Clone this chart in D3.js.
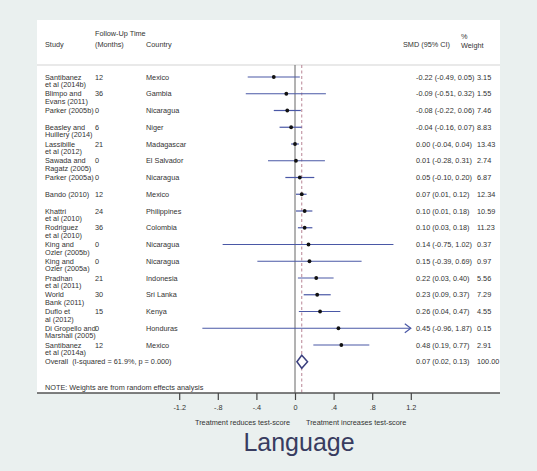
<!DOCTYPE html>
<html>
<head>
<meta charset="utf-8">
<script src="https://cdn.jsdelivr.net/npm/d3@7"></script>
<style>
  body { margin: 0; background: #eaf0ef; }
  text { font-family: "Liberation Sans", Arial, sans-serif; }
</style>
</head>
<body>
<div id="forest"></div>
<script>
// study rows, top to bottom
const studies = [
  ["Santibanez", "et al (2014b)"], ["Blimpo and", "Evans (2011)"], ["Parker (2005b)"],
  ["Beasley and", "Huillery (2014)"], ["Lassibille", "et al (2012)"], ["Sawada and", "Ragatz (2005)"],
  ["Parker (2005a)"], ["Bando (2010)"], ["Khattri", "et al (2010)"], ["Rodriguez", "et al (2010)"],
  ["King and", "Ozler (2005b)"], ["King and", "Ozler (2005a)"], ["Pradhan", "et al (2011)"],
  ["World", "Bank (2011)"], ["Duflo et", "al (2012)"], ["Di Gropello and", "Marshall (2005)"],
  ["Santibanez", "et al (2014a)"]
];
const followUp = [12, 36, 0, 6, 21, 0, 0, 12, 24, 36, 0, 0, 21, 30, 15, 0, 12];
const countries = ["Mexico", "Gambia", "Nicaragua", "Niger", "Madagascar", "El Salvador", "Nicaragua",
  "Mexico", "Philippines", "Colombia", "Nicaragua", "Nicaragua", "Indonesia", "Sri Lanka", "Kenya",
  "Honduras", "Mexico"];
const smd = [-0.22, -0.09, -0.08, -0.04, 0.00, 0.01, 0.05, 0.07, 0.10, 0.10, 0.14, 0.15, 0.22, 0.23, 0.26, 0.45, 0.48];
const ciLow = [-0.49, -0.51, -0.22, -0.16, -0.04, -0.28, -0.10, 0.01, 0.01, 0.03, -0.75, -0.39, 0.03, 0.09, 0.04, -0.96, 0.19];
const ciHigh = [0.05, 0.32, 0.06, 0.07, 0.04, 0.31, 0.20, 0.12, 0.18, 0.18, 1.02, 0.69, 0.40, 0.37, 0.47, 1.87, 0.77];
const weights = ["3.15", "1.55", "7.46", "8.83", "13.43", "2.74", "6.87", "12.34", "10.59", "11.23",
  "0.37", "0.97", "5.56", "7.29", "4.55", "0.15", "2.91"];
const overall = { est: 0.07, lo: 0.02, hi: 0.13, weight: "100.00",
  label: "Overall  (I-squared = 61.9%, p = 0.000)" };
const ticks = [-1.2, -0.8, -0.4, 0, 0.4, 0.8, 1.2];
const tickLabels = ["-1.2", "-.8", "-.4", "0", ".4", ".8", "1.2"];

const W = 537, H = 471;
// plain hyphen for negatives, like the original
const fmt = d3.formatLocale({ decimal: ".", thousands: ",", grouping: [3], currency: ["", ""], minus: "-" })
  .format(".2f");

const svg = d3.select("#forest").append("svg")
  .attr("width", W).attr("height", H);

svg.append("rect").attr("width", W).attr("height", H).attr("fill", "#eaf0ef");
svg.append("rect").attr("x", 37).attr("y", 20).attr("width", 463).attr("height", 373)
  .attr("fill", "#ffffff");

const x = d3.scaleLinear().domain([-1.2, 1.2]).range([179.2, 410.8]);
const y = d3.scaleLinear().domain([0, 1]).range([77, 93.75]);

const txt = "#333";
const fs = 7.3;

// header
const hdr = svg.append("g").attr("font-size", fs).attr("fill", txt);
hdr.append("text").attr("x", 45).attr("y", 46.5).text("Study");
hdr.append("text").attr("x", 95).attr("y", 35.5).text("Follow-Up Time");
hdr.append("text").attr("x", 95).attr("y", 46.5).text("(Months)");
hdr.append("text").attr("x", 146).attr("y", 46.5).text("Country");
hdr.append("text").attr("x", 403).attr("y", 46.5).text("SMD (95% CI)");
hdr.append("text").attr("x", 461).attr("y", 38.5).text("%");
hdr.append("text").attr("x", 461).attr("y", 47.5).text("Weight");

svg.append("line").attr("x1", 37).attr("x2", 500).attr("y1", 65).attr("y2", 65)
  .attr("stroke", "#e2e2e2").attr("stroke-width", 1.5);

// reference lines
svg.append("line").attr("x1", x(0)).attr("x2", x(0)).attr("y1", 65).attr("y2", 393)
  .attr("stroke", "#666").attr("stroke-width", 1);
svg.append("line").attr("x1", x(overall.est)).attr("x2", x(overall.est)).attr("y1", 65).attr("y2", 393)
  .attr("stroke", "#b98595").attr("stroke-width", 1).attr("stroke-dasharray", "3,2.5");

// rows
const rows = svg.append("g").selectAll("g")
  .data(smd.map((d, i) => ({ i, est: d, lo: ciLow[i], hi: ciHigh[i] })))
  .join("g")
  .attr("transform", d => `translate(0,${y(d.i)})`);

rows.each(function (d) {
  const g = d3.select(this);
  const tg = g.append("g").attr("font-size", fs).attr("fill", txt);
  studies[d.i].forEach((line, k) => {
    tg.append("text").attr("x", 45).attr("y", 2.6 + k * 7.4).text(line);
  });
  tg.append("text").attr("x", 95).attr("y", 2.6).text(followUp[d.i]);
  tg.append("text").attr("x", 146).attr("y", 2.6).text(countries[d.i]);
  tg.append("text").attr("x", 416).attr("y", 2.6)
    .text(`${fmt(d.est)} (${fmt(d.lo)}, ${fmt(d.hi)})`);
  tg.append("text").attr("x", 477).attr("y", 2.6).text(weights[d.i]);

  const clipped = d.hi > 1.2;
  const x2 = clipped ? x(1.2) : x(d.hi);
  g.append("line").attr("x1", x(Math.max(d.lo, -1.2))).attr("x2", x2)
    .attr("stroke", "#4a58a6").attr("stroke-width", 1.2);
  if (clipped) {
    g.append("path").attr("d", `M${x2 - 6},-4.5L${x2},0L${x2 - 6},4.5`)
      .attr("fill", "none").attr("stroke", "#4a58a6").attr("stroke-width", 1.2);
  }
  g.append("circle").attr("cx", x(d.est)).attr("r", 1.9).attr("fill", "#111");
});

// overall
const oy = y(17);
const og = svg.append("g").attr("font-size", fs).attr("fill", txt);
og.append("text").attr("x", 45).attr("y", oy + 2.6).attr("xml:space", "preserve").text(overall.label);
og.append("text").attr("x", 416).attr("y", oy + 2.6)
  .text(`${fmt(overall.est)} (${fmt(overall.lo)}, ${fmt(overall.hi)})`);
og.append("text").attr("x", 477).attr("y", oy + 2.6).text(overall.weight);
svg.append("path")
  .attr("d", `M${x(overall.lo)},${oy}L${x(overall.est)},${oy - 6.5}L${x(overall.hi)},${oy}L${x(overall.est)},${oy + 6.5}Z`)
  .attr("fill", "#fff").attr("stroke", "#3b3f7e").attr("stroke-width", 1.5);

svg.append("text").attr("x", 45).attr("y", 389.5).attr("font-size", fs).attr("fill", txt)
  .text("NOTE: Weights are from random effects analysis");

// axis
svg.append("line").attr("x1", 37).attr("x2", 500).attr("y1", 393).attr("y2", 393)
  .attr("stroke", "#555").attr("stroke-width", 1.3);
const axis = d3.axisBottom(x).tickValues(ticks).tickSize(7).tickPadding(5)
  .tickFormat((d, i) => tickLabels[i]);
const ax = svg.append("g").attr("transform", "translate(0,393)").call(axis);
ax.select(".domain").remove();
ax.selectAll(".tick line").attr("stroke", "#444").attr("stroke-width", 1.2);
ax.selectAll(".tick text").attr("font-size", fs).attr("fill", txt)
  .attr("font-family", "Liberation Sans, Arial, sans-serif");

svg.append("text").attr("x", 290).attr("y", 424.5).attr("text-anchor", "end")
  .attr("font-size", fs).attr("fill", txt).text("Treatment reduces test-score");
svg.append("text").attr("x", 306).attr("y", 424.5)
  .attr("font-size", fs).attr("fill", txt).text("Treatment increases test-score");

svg.append("text").attr("x", 299).attr("y", 451).attr("text-anchor", "middle")
  .attr("font-size", 25).attr("fill", "#383c60").text("Language");
</script>
</body>
</html>
